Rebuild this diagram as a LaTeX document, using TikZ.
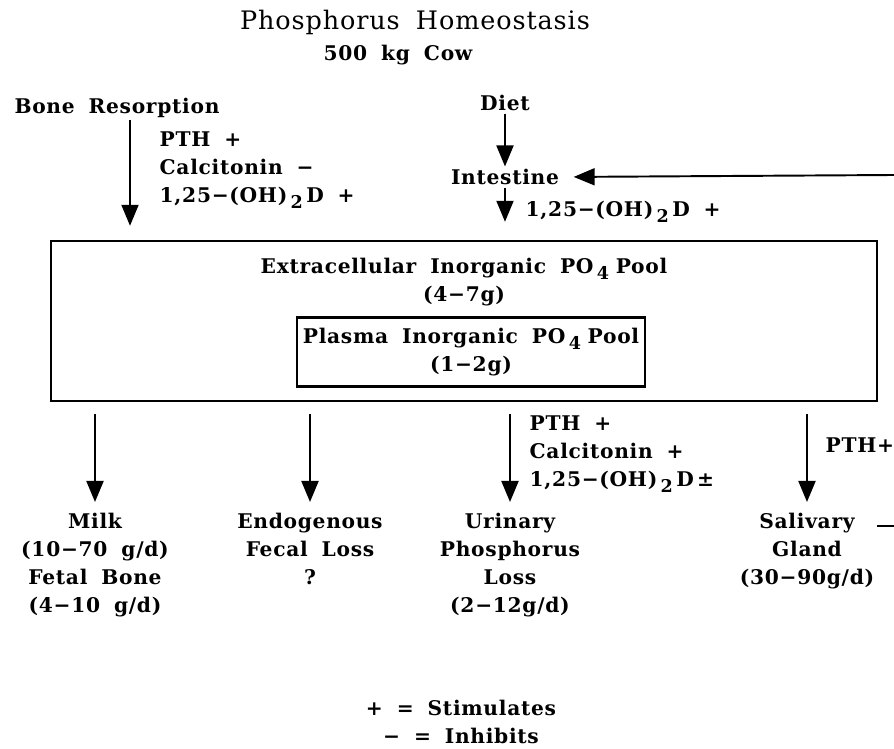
\documentclass[tikz,border=0pt]{standalone}
\usepackage{fontspec}
\setmainfont{DejaVu Serif}[LetterSpace=3.5,WordSpace=1.8]
\usetikzlibrary{arrows.meta,positioning}
\newcommand{\lsub}[1]{\,\raisebox{-0.6ex}{\fontsize{10}{10}\selectfont #1}\,}
\begin{document}
\begin{tikzpicture}[x=0.02cm,y=-0.02cm,line width=1.1pt,
  every node/.style={font=\bfseries\fontsize{11.5}{16}\selectfont,inner sep=1pt},
  flow/.style={-{Triangle[length=4.2mm,width=3.4mm]}},
  pool/.style={draw,line width=1.4pt}]
\useasboundingbox (0,0) rectangle (894,749);
% Titles
\node (title) at (415,22) {\mdseries\fontsize{14.5}{16}\selectfont Phosphorus Homeostasis};
\node (cow) at (398,55) {500 kg Cow};
% Inputs
\node (bone) at (117,108) {Bone Resorption};
\coordinate (bx) at (130,0);
\node[anchor=west,align=left] (bonereg) at (157,170) {PTH +\\Calcitonin −\\1,25−(OH)\lsub{2}D +};
\node (diet) at (505,103) {Diet};
\node (gut) at (505,177) {Intestine};
\node[anchor=west] (gutreg) at (523,212) {1,25−(OH)\lsub{2}D +};
\coordinate (ret) at (894,175);
% Pools
\node[pool,minimum width=16.52cm,minimum height=3.2cm] (ecf) at (464,321) {};
\node[align=center] (ecftxt) at (464,282) {Extracellular Inorganic PO\lsub{4}\,Pool\\(4−7g)};
\node[pool,minimum width=6.96cm,minimum height=1.38cm,align=center] (plasma) at (471,352)
  {Plasma Inorganic PO\lsub{4}\,Pool\\(1−2g)};
% Outputs
\node[anchor=north,align=center] (milk) at (95,510) {Milk\\(10−70 g/d)\\Fetal Bone\\(4−10 g/d)};
\node[anchor=north,align=center] (fecal) at (310,510) {Endogenous\\Fecal Loss\\?};
\node[anchor=north,align=center] (urine) at (510,510) {Urinary\\Phosphorus\\Loss\\(2−12g/d)};
\node[anchor=north,align=center] (saliva) at (807,510) {Salivary\\Gland\\(30−90g/d)};
\node[anchor=west,align=left] (urinereg) at (527,454) {PTH +\\Calcitonin +\\1,25−(OH)\lsub{2}D\,±};
\node[anchor=west] (salivareg) at (823,445) {PTH+};
\coordinate (sg) at (894,526);
% Legend
\node[align=center] (key) at (461,722) {+ = Stimulates\\− = Inhibits};
% Arrows in
\draw[flow,shorten >=14*0.02cm] (bone.south -| bx) -- (ecf.north -| bx);
\draw[flow] (diet) -- (gut);
\draw[flow,shorten >=18*0.02cm] (gut) -- (ecf.north -| gut);
\draw[flow,shorten >=12*0.02cm] (ret) -- (gut.east);
% Arrows out
\foreach \o in {milk,fecal,urine,saliva}
  \draw[flow,shorten <=12*0.02cm,shorten >=8*0.02cm] (ecf.south -| \o) -- (\o.north);
\draw (saliva.east |- sg) -- (sg);
\end{tikzpicture}
\end{document}
